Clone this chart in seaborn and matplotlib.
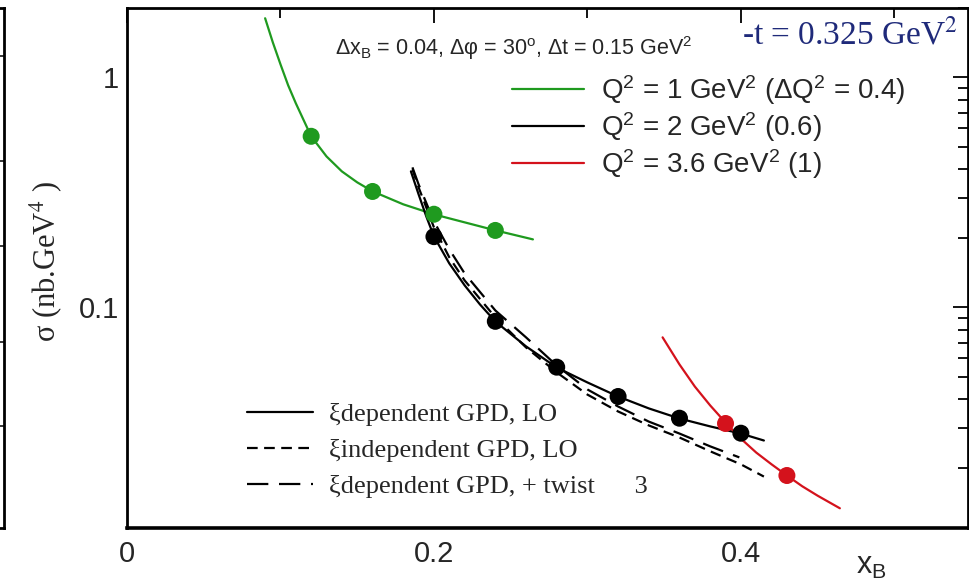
import numpy as np
import pandas as pd
import matplotlib
matplotlib.use("Agg")
import matplotlib.pyplot as plt
from matplotlib.lines import Line2D
from matplotlib.ticker import FixedLocator, NullFormatter, LogLocator
import seaborn as sns

# ---------------- data ----------------
# Q^2 = 1 GeV^2 curve and points
green_x = [0.090, 0.095, 0.100, 0.105, 0.110, 0.120, 0.130, 0.140, 0.150, 0.160,
           0.180, 0.200, 0.220, 0.240, 0.2645]
green_y = [1.805, 1.419, 1.139, 0.923, 0.771, 0.554, 0.453, 0.390, 0.3495, 0.3194,
           0.2805, 0.2537, 0.2342, 0.2162, 0.1975]
green_pts_x = [0.12, 0.16, 0.20, 0.24]
green_pts_y = [0.554, 0.319, 0.254, 0.216]

# Q^2 = 2 GeV^2 : xi-dependent GPD, LO
black_x = [0.185, 0.190, 0.195, 0.200, 0.210, 0.220, 0.230, 0.240, 0.260, 0.280,
           0.300, 0.320, 0.340, 0.360, 0.380, 0.400, 0.415]
black_y = [0.390, 0.310, 0.2487, 0.2035, 0.1553, 0.1247, 0.1030, 0.0869, 0.0677, 0.0548,
           0.0472, 0.0410, 0.0364, 0.0329, 0.0304, 0.0283, 0.0264]
black_pts_x = [0.20, 0.24, 0.28, 0.32, 0.36, 0.40]
black_pts_y = [0.203, 0.087, 0.055, 0.041, 0.033, 0.0284]

# xi-independent GPD, LO
indep_x = [0.186, 0.190, 0.200, 0.210, 0.220, 0.240, 0.260, 0.280, 0.300, 0.320,
           0.340, 0.360, 0.380, 0.400, 0.415]
indep_y = [0.398, 0.3324, 0.2228, 0.1650, 0.1310, 0.0905, 0.0670, 0.0522, 0.0418, 0.0353,
           0.0307, 0.0272, 0.0237, 0.0208, 0.0184]

# xi-dependent GPD + twist 3
twist_x = [0.186, 0.190, 0.200, 0.210, 0.220, 0.240, 0.260, 0.280, 0.300, 0.320,
           0.340, 0.360, 0.380, 0.399]
twist_y = [0.406, 0.3425, 0.2365, 0.1788, 0.1405, 0.0970, 0.0741, 0.0559, 0.0440, 0.0371,
           0.0319, 0.0283, 0.0249, 0.0223]

# Q^2 = 3.6 GeV^2 curve and points
red_x = [0.349, 0.360, 0.370, 0.380, 0.390, 0.400, 0.410, 0.420, 0.430, 0.440, 0.450, 0.4645]
red_y = [0.0741, 0.0565, 0.0453, 0.0375, 0.0316, 0.0269, 0.0234, 0.0208, 0.0186, 0.0167,
         0.0152, 0.0134]
red_pts_x = [0.39, 0.43]
red_pts_y = [0.0313, 0.0186]

q2_labels = ["Q$^2$ = 1 GeV$^2$ (\u0394Q$^2$ = 0.4)",
             "Q$^2$ = 2 GeV$^2$ (0.6)",
             "Q$^2$ = 3.6 GeV$^2$ (1)"]
model_labels = ["\u03bedependent GPD, LO",
                "\u03beindependent GPD, LO",
                "\u03bedependent GPD, + twist      3"]
x_ticks = [0, 0.2, 0.4]
x_tick_labels = ["0", "0.2", "0.4"]
y_ticks = [0.1, 1]
y_tick_labels = ["0.1", "1"]
# tick marks on the edge of the neighbouring panel (axes fraction)
side_ticks = [0.908, 0.706, 0.542, 0.358, 0.196]

# ---------------- style ----------------
sns.set_style("white")
plt.rcParams["font.family"] = ["Liberation Sans", "DejaVu Sans"]
plt.rcParams["mathtext.fontset"] = "custom"
plt.rcParams["mathtext.rm"] = "Liberation Sans"
plt.rcParams["mathtext.it"] = "Liberation Sans:italic"
plt.rcParams["mathtext.bf"] = "Liberation Sans:bold"

GREEN = "#1f9a1f"
RED = "#d4121c"
BLACK = "#000000"
NAVY = "#1f2a7a"
SHORT = (0, (4.8, 2.9))
LONG = (0, (9.6, 4.8))
SERIF = ["Liberation Serif", "DejaVu Serif"]

W, H = 969, 584
fig = plt.figure(figsize=(W / 100, H / 100), dpi=100)
fig.patch.set_facecolor("white")

ax_left, ax_right, ax_top, ax_bot = 127, 968, 8, 528
ax = fig.add_axes([ax_left / W, 1 - ax_bot / H, (ax_right - ax_left) / W, (ax_bot - ax_top) / H])
ax.set_facecolor("white")

def curve(xs, ys, color, ls="-"):
    df = pd.DataFrame({"x": xs, "y": ys})
    sns.lineplot(data=df, x="x", y="y", ax=ax, color=color, lw=1.6, linestyle=ls,
                 sort=False, estimator=None, legend=False)

def dots(xs, ys, color):
    df = pd.DataFrame({"x": xs, "y": ys})
    sns.scatterplot(data=df, x="x", y="y", ax=ax, color=color, s=150,
                    edgecolor="none", linewidth=0, zorder=4, legend=False)

curve(green_x, green_y, GREEN)
curve(black_x, black_y, BLACK)
curve(indep_x, indep_y, BLACK, SHORT)
curve(twist_x, twist_y, BLACK, LONG)
curve(red_x, red_y, RED)
dots(green_pts_x, green_pts_y, GREEN)
dots(black_pts_x, black_pts_y, BLACK)
dots(red_pts_x, red_pts_y, RED)

ax.set_yscale("log")
ax.set_xlim(0, 0.548)
ax.set_ylim(0.011, 2.0)

ax.xaxis.set_major_locator(FixedLocator(x_ticks))
ax.set_xticklabels(x_tick_labels)
ax.xaxis.set_minor_locator(FixedLocator([0.1, 0.3, 0.5]))
ax.yaxis.set_major_locator(FixedLocator(y_ticks))
ax.set_yticklabels(y_tick_labels)
ax.yaxis.set_minor_locator(LogLocator(base=10, subs=np.arange(2, 10)))
ax.yaxis.set_minor_formatter(NullFormatter())

ax.tick_params(which="both", direction="in", top=True, right=True, color="black",
               labelsize=21, width=1.3)
ax.tick_params(which="major", length=11)
ax.tick_params(which="minor", length=7)
ax.tick_params(axis="x", which="major", pad=9)
ax.tick_params(axis="y", which="major", pad=6)
for s in ax.spines.values():
    s.set_color("black")
    s.set_linewidth(2.0)
ax.spines["bottom"].set_linewidth(2.6)

ax.set_xlabel("")
ax.set_ylabel("")

fig.text(871 / W, 1 - 566 / H, "x$_\\mathrm{B}$", fontsize=22, ha="center", va="center")
fig.text(46 / W, 1 - 262 / H, "\u03c3 (nb.GeV$^4$ )", fontsize=22, rotation=90,
         ha="center", va="center", family=SERIF, math_fontfamily="stix")
fig.text(958 / W, 1 - 35 / H, "-t = 0.325 GeV$^2$", fontsize=24, color=NAVY,
         ha="right", va="center", family=SERIF, math_fontfamily="stix")
fig.text(335 / W, 1 - 48 / H,
         "\u0394x$_\\mathrm{B}$ = 0.04, \u0394\u03c6 = 30$^\\mathrm{o}$, \u0394t = 0.15 GeV$^2$",
         fontsize=15.5, ha="left", va="center")

# legend for the Q^2 bins
q2_handles = [Line2D([], [], color=c, lw=1.6) for c in (GREEN, BLACK, RED)]
leg1 = ax.legend(q2_handles, q2_labels, loc="upper left",
                 bbox_to_anchor=(512 / W, 1 - 73 / H), bbox_transform=fig.transFigure,
                 frameon=False, fontsize=20, handlelength=2.6, handletextpad=0.6,
                 labelspacing=0.12, borderpad=0, borderaxespad=0)
ax.add_artist(leg1)

# legend for the model curves
m_handles = [Line2D([], [], color=BLACK, lw=1.6, linestyle=ls) for ls in ("-", SHORT, LONG)]
leg2 = ax.legend(m_handles, model_labels, loc="upper left",
                 bbox_to_anchor=(247 / W, 1 - 403 / H), bbox_transform=fig.transFigure,
                 frameon=False, handlelength=2.5, handletextpad=0.6,
                 labelspacing=0.47, borderpad=0, borderaxespad=0,
                 prop={"family": SERIF, "size": 19})

# edge of the neighbouring panel
side = fig.add_axes([-0.5, 1 - ax_bot / H, 0.5 + 4 / W, (ax_bot - ax_top) / H])
side.set_xlim(0, 1)
side.set_ylim(0, 1)
side.set_facecolor("white")
side.spines["left"].set_visible(False)
for k in ("right", "top", "bottom"):
    side.spines[k].set_linewidth(2.0)
    side.spines[k].set_color("black")
side.set_xticks([])
side.yaxis.tick_right()
side.set_yticks(side_ticks)
side.set_yticklabels([])
side.tick_params(axis="y", direction="in", length=11, width=1.3, right=True, left=False)

fig.savefig("out.png", dpi=100, facecolor="white")
